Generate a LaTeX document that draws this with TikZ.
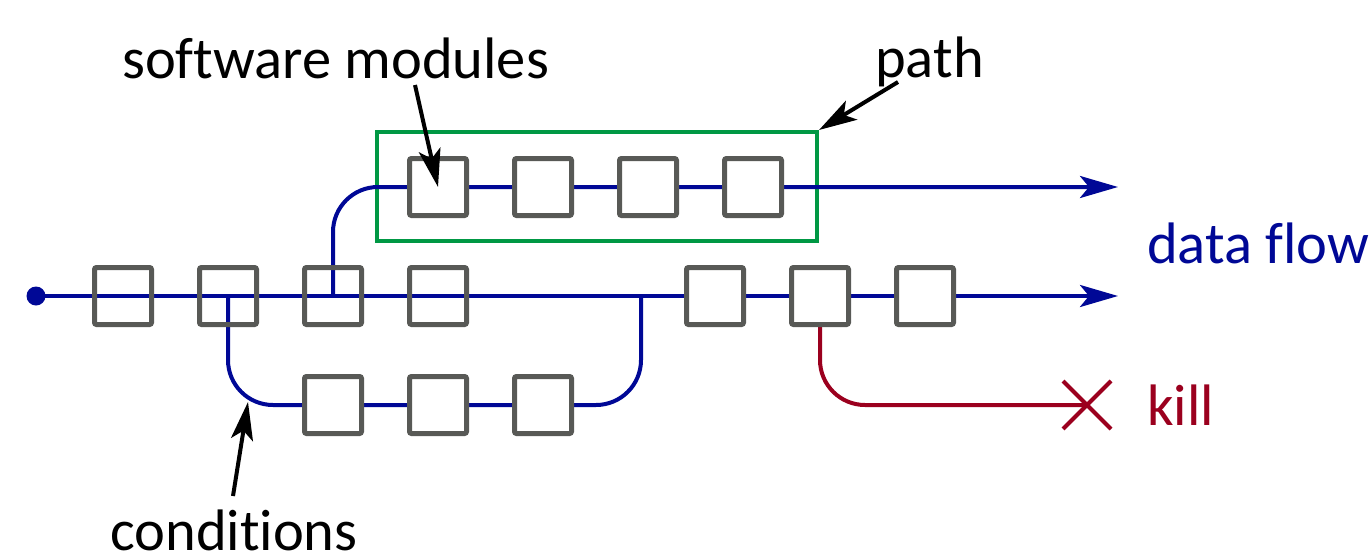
\documentclass[tikz,border=0pt]{standalone}
\usepackage{fontspec}
\setmainfont{Carlito}[Ligatures={NoCommon,NoRare,NoContextual}]
\usetikzlibrary{arrows.meta,shapes.misc}
\definecolor{flowblue}{RGB}{0,8,150}
\definecolor{modgray}{RGB}{88,89,86}
\definecolor{pathgreen}{RGB}{0,152,68}
\definecolor{killred}{RGB}{155,0,30}
\pgfdeclarelayer{back}
\pgfdeclarelayer{lines}
\pgfsetlayers{back,lines,main}
\tikzset{
  module/.style={draw=modgray, line width=5pt, fill=white, minimum size=57pt,
    inner sep=0pt, rounded corners=2pt},
  skipped/.style={module, fill=none},
  flow/.style={draw=flowblue, line width=4pt},
  flowend/.style={flow, -{Stealth[length=38pt, width=22pt, inset=9pt]}},
  killline/.style={draw=killred, line width=4pt},
  pointer/.style={draw=black, line width=4pt, -{Stealth[length=38pt, width=22pt, inset=9pt]}},
  label/.style={font=\fontsize{58.5}{64}\selectfont, inner sep=0pt, anchor=base west},
}
\begin{document}
\begin{tikzpicture}[x=1pt, y=-1pt]
\useasboundingbox (0,0) rectangle (1370,557);

% main row of modules
\node[skipped] (m1) at (123,296) {};
\node[skipped] (m2) at (228,296) {};
\node[skipped] (m3) at (333,296) {};
\node[skipped] (m4) at (438,296) {};
\node[module] (m5) at (715,296) {};
\node[module] (m6) at (820,296) {};
\node[module] (m7) at (925,296) {};

% upper branch modules
\node[module] (t1) at (438,187) {};
\node[module] (t2) at (543,187) {};
\node[module] (t3) at (648,187) {};
\node[module] (t4) at (753,187) {};

% lower branch modules
\node[module] (b1) at (333,405) {};
\node[module] (b2) at (438,405) {};
\node[module] (b3) at (543,405) {};

% end points and junctions
\coordinate (start) at (36,296);
\coordinate (mainend) at (1118,296);
\coordinate (topend) at (1118,187);
\coordinate (join) at (641,296);
\coordinate (lowcorner) at (641,405);
\node[cross out, draw=killred, line width=4pt, minimum size=44pt, inner sep=0pt] (kx) at (1087,405) {};

% highlighted path
\begin{pgfonlayer}{back}
\node[draw=pathgreen, line width=4pt, minimum width=440pt, minimum height=109pt,
  inner sep=0pt] (pathbox) at (597,186.5) {};
\end{pgfonlayer}

% data flow lines
\begin{pgfonlayer}{lines}
\draw[flowend] (start) -- (mainend);
\fill[flowblue] (start) circle (9.5pt);
\draw[flowend, rounded corners=45pt] (m3.center) |- (topend);
\draw[flow, rounded corners=45pt] (m2.center) |- (lowcorner) -- (join);
\draw[killline, rounded corners=45pt] (m6.center) |- (kx.center);
\end{pgfonlayer}

% labels
\node[label] (lmod) at (122,78) {software modules};
\node[label] (lpath) at (875,77) {path};
\node[label, text depth=0pt] (lcond) at (110,550) {conditions};
\node[label, text=flowblue] (lflow) at (1147,263) {data flow};
\node[label, text=killred] (lkill) at (1147,425) {kill};

% pointers
\coordinate (pm) at (415,85);
\coordinate (pp) at (898,82);
\coordinate (pc) at (233,496);
\draw[pointer] (pm) -- (t1.center);
\draw[pointer] (pp) -- (pathbox.north east);
\draw[pointer] (pc) -- (248,402);
\end{tikzpicture}
\end{document}
